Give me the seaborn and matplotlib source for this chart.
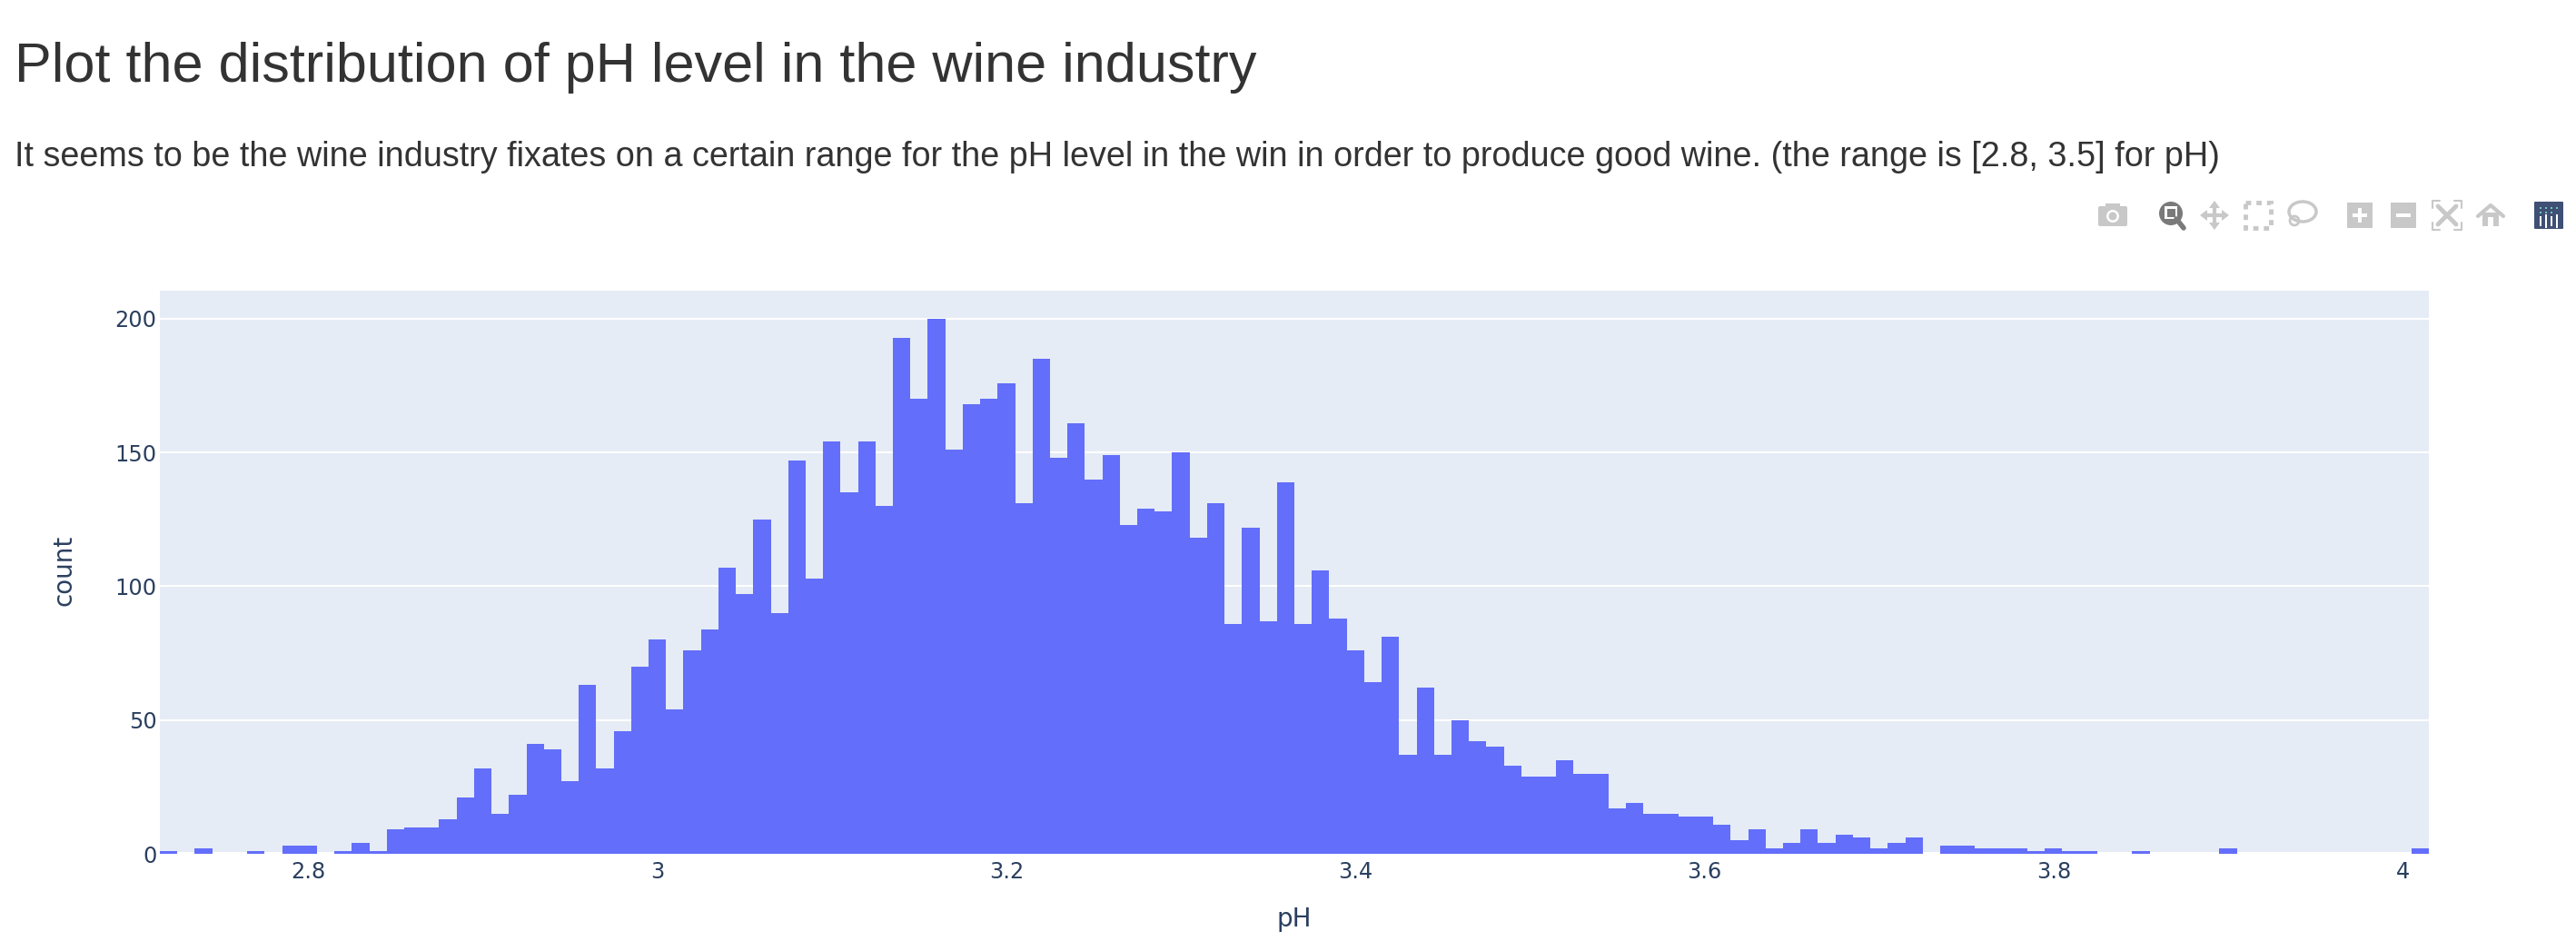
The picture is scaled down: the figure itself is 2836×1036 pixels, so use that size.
import numpy as np
import matplotlib
matplotlib.use("Agg")
import matplotlib.pyplot as plt
from matplotlib.patches import Rectangle, Circle, FancyBboxPatch, Polygon, Ellipse
import seaborn as sns

ph_levels = [
    2.72, 2.73, 2.74, 2.75, 2.76, 2.77, 2.78, 2.79, 2.80, 2.81,
    2.82, 2.83, 2.84, 2.85, 2.86, 2.87, 2.88, 2.89, 2.90, 2.91,
    2.92, 2.93, 2.94, 2.95, 2.96, 2.97, 2.98, 2.99, 3.00, 3.01,
    3.02, 3.03, 3.04, 3.05, 3.06, 3.07, 3.08, 3.09, 3.10, 3.11,
    3.12, 3.13, 3.14, 3.15, 3.16, 3.17, 3.18, 3.19, 3.20, 3.21,
    3.22, 3.23, 3.24, 3.25, 3.26, 3.27, 3.28, 3.29, 3.30, 3.31,
    3.32, 3.33, 3.34, 3.35, 3.36, 3.37, 3.38, 3.39, 3.40, 3.41,
    3.42, 3.43, 3.44, 3.45, 3.46, 3.47, 3.48, 3.49, 3.50, 3.51,
    3.52, 3.53, 3.54, 3.55, 3.56, 3.57, 3.58, 3.59, 3.60, 3.61,
    3.62, 3.63, 3.64, 3.65, 3.66, 3.67, 3.68, 3.69, 3.70, 3.71,
    3.72, 3.73, 3.74, 3.75, 3.76, 3.77, 3.78, 3.79, 3.80, 3.81,
    3.82, 3.83, 3.84, 3.85, 3.86, 3.87, 3.88, 3.89, 3.90, 3.91,
    3.92, 3.93, 3.94, 3.95, 3.96, 3.97, 3.98, 3.99, 4.00, 4.01,
]
counts = [
    1, 0, 2, 0, 0, 1, 0, 3, 3, 0,
    1, 4, 1, 9, 10, 10, 13, 21, 32, 15,
    22, 41, 39, 27, 63, 32, 46, 70, 80, 54,
    76, 84, 107, 97, 125, 90, 147, 103, 154, 135,
    154, 130, 193, 170, 200, 151, 168, 170, 176, 131,
    185, 148, 161, 140, 149, 123, 129, 128, 150, 118,
    131, 86, 122, 87, 139, 86, 106, 88, 76, 64,
    81, 37, 62, 37, 50, 42, 40, 33, 29, 29,
    35, 30, 30, 17, 19, 15, 15, 14, 14, 11,
    5, 9, 2, 4, 9, 4, 7, 6, 2, 4,
    6, 0, 3, 3, 2, 2, 2, 1, 2, 1,
    1, 0, 0, 1, 0, 0, 0, 0, 2, 0,
    0, 0, 0, 0, 0, 0, 0, 0, 0, 2,
]
x_tick_values = [2.8, 3.0, 3.2, 3.4, 3.6, 3.8, 4.0]
x_tick_labels = ["2.8", "3", "3.2", "3.4", "3.6", "3.8", "4"]
y_tick_values = [0, 50, 100, 150, 200]

title = "Plot the distribution of pH level in the wine industry"
subtitle = ("It seems to be the wine industry fixates on a certain range for the pH level "
            "in the win in order to produce good wine. (the range is [2.8, 3.5] for pH)")

W, H = 2836, 1036
sns.set_theme(style="white")
plt.rcParams["font.family"] = ["DejaVu Sans"]
fig = plt.figure(figsize=(W / 100, H / 100), dpi=100, facecolor="white")

L, R, T, B = 176, 2674, 320, 940
ax = fig.add_axes([L / W, 1 - B / H, (R - L) / W, (B - T) / H], facecolor="#e5ecf6")

half = 0.005
edges = [p - half for p in ph_levels] + [ph_levels[-1] + half]
sns.histplot(x=ph_levels, weights=counts, bins=edges, element="step", fill=True,
             color="#636efa", alpha=1, linewidth=0, ax=ax, zorder=3)

ax.set_xlim(2.715, 4.015)
ax.set_ylim(0, 210.5)
ax.set_xticks(x_tick_values, x_tick_labels)
ax.set_yticks(y_tick_values)
ax.set_axisbelow(True)
ax.grid(axis="y", color="white", linewidth=1.5)
ax.grid(axis="x", visible=False)
ax.axhline(0, color="white", linewidth=2.9, zorder=1, clip_on=False)
for s in ax.spines.values():
    s.set_visible(False)
ink = "#2a3f5f"
ax.tick_params(axis="both", length=0, labelsize=17.3, labelcolor=ink)
ax.tick_params(axis="x", pad=5.8)
ax.tick_params(axis="y", pad=2.4)
ax.set_xlabel("")
ax.set_ylabel("")
fig.text(1425 / W, 1 - 1020.5 / H, "pH", fontsize=20, color=ink, ha="center", va="baseline")
fig.text(70 / W, 1 - 628 / H, "count", fontsize=20, color=ink, ha="center", va="center", rotation=90)

fig.text(16 / W, 1 - 90 / H, title, fontsize=44, color="#333333", ha="left", va="baseline",
         family=["Liberation Sans"])
fig.text(16 / W, 1 - 183 / H, subtitle, fontsize=27.2, color="#333333", ha="left", va="baseline",
         family=["Liberation Sans"])

# plotly mode bar drawn as plain shapes in pixel space
ui = fig.add_axes([0, 0, 1, 1], facecolor="none")
ui.set_xlim(0, W)
ui.set_ylim(H, 0)
ui.axis("off")
grey = "#c8c8c8"
dark = "#7a7a7a"
def box(x, y, w, h, c=grey):
    ui.add_patch(Rectangle((x - w / 2, y - h / 2), w, h, color=c, lw=0))
# camera
ui.add_patch(FancyBboxPatch((2312, 229), 28, 18, boxstyle="round,pad=2", color=grey, lw=0))
box(2326, 227, 16, 6)
ui.add_patch(Circle((2326, 238), 7, fc="white", ec="none"))
ui.add_patch(Circle((2326, 238), 4.5, fc=grey, ec="none"))
# zoom
ui.plot([2396, 2404], [241, 251], color=dark, lw=4)
ui.add_patch(Circle((2390, 235), 13, fc=dark, ec="none"))
box(2390, 234, 14, 14, "white")
box(2390, 234, 9, 9, dark)
# pan
ui.plot([2426, 2450], [237, 237], color=grey, lw=3)
ui.plot([2438, 2438], [225, 249], color=grey, lw=3)
for pts in [[(2422, 237), (2430, 231), (2430, 243)], [(2454, 237), (2446, 231), (2446, 243)],
            [(2438, 221), (2432, 229), (2444, 229)], [(2438, 253), (2432, 245), (2444, 245)]]:
    ui.add_patch(Polygon(pts, color=grey, lw=0))
# box select
ui.add_patch(Rectangle((2472, 223), 28, 28, fc="none", ec=grey, lw=3.5, ls=(0, (1.2, 1.2))))
# lasso
ui.add_patch(Ellipse((2535, 233), 30, 22, fc="none", ec=grey, lw=2.5))
ui.add_patch(Circle((2526, 243), 5, fc="none", ec=grey, lw=2))
# zoom in / out
box(2598, 237, 28, 28)
box(2598, 237, 16, 4, "white")
box(2598, 237, 4, 16, "white")
box(2646, 237, 28, 28)
box(2646, 237, 16, 4, "white")
# autoscale
ui.plot([2684, 2704], [227, 247], color=grey, lw=3.5)
ui.plot([2704, 2684], [227, 247], color=grey, lw=3.5)
for xs, ys in [([2678, 2678, 2686], [229, 221, 221]), ([2702, 2710, 2710], [221, 221, 229]),
               ([2678, 2678, 2686], [245, 253, 253]), ([2702, 2710, 2710], [253, 253, 245])]:
    ui.plot(xs, ys, color=grey, lw=1.5)
# home
ui.plot([2728, 2742, 2756], [238, 226, 238], color=grey, lw=3)
box(2742, 241, 18, 15)
box(2742, 244, 6, 10, "white")
# plotly logo
ui.add_patch(FancyBboxPatch((2791, 223), 30, 28, boxstyle="round,pad=1", color="#3f4f75", lw=0))
for i, xp in enumerate([2797, 2803, 2809, 2815]):
    box(xp, 229, 2.5, 2.5, "#6fc5b5")
    box(xp, 234, 2.5, 2.5, "#6fc5b5" if i < 3 else "#3f4f75")
    box(xp, 243, 2.5, 11 if i % 2 == 0 else 15, "white")

fig.savefig("out.png", dpi=100, facecolor="white")
